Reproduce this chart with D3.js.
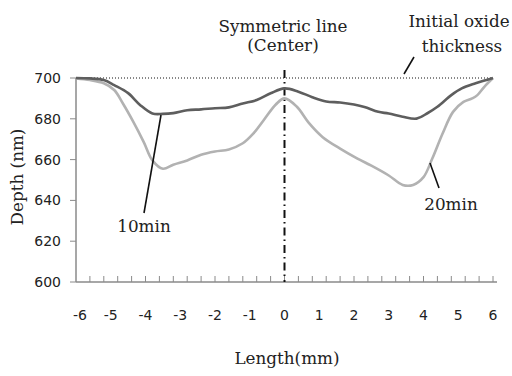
<!DOCTYPE html>
<html>
<head>
<meta charset="utf-8">
<script src="https://cdn.jsdelivr.net/npm/d3@7"></script>
<style>
  html, body { margin: 0; padding: 0; background: #fff; }
  svg { display: block; }
</style>
</head>
<body>
<div id="chart"></div>
<script>
// data (length in mm, depth in nm)
const lengths10 = [-6, -5.6, -5.2, -4.9, -4.5, -4.15, -3.8, -3.5, -3.2, -2.8, -2.4, -2.0, -1.6, -1.2, -0.8, -0.4, 0,
  0.4, 0.8, 1.2, 1.6, 2.0, 2.3, 2.7, 3.0, 3.4, 3.8, 4.1, 4.4, 4.8, 5.1, 5.5, 6];
const depth10 = [700, 699.8, 699, 696.5, 692.6, 686.7, 682.6, 682.4, 682.8, 684.2, 684.6, 685.2, 685.6, 687.5, 689.2, 692.5, 694.9,
  693.3, 690.6, 688.5, 688, 687, 685.8, 683.4, 682.6, 681, 680.1, 682.6, 685.9, 691.6, 694.9, 697.4, 700];

const lengths20 = [-6, -5.6, -5.2, -4.9, -4.65, -4.35, -4.05, -3.8, -3.5, -3.2, -2.8, -2.4, -2.0, -1.6, -1.2, -0.9, -0.6, -0.25, 0,
  0.35, 0.7, 1.1, 1.6, 2.1, 2.5, 3.0, 3.4, 3.7, 4.0, 4.25, 4.55, 4.85, 5.15, 5.4, 5.55, 5.75, 6];
const depth20 = [699.8, 699, 697.4, 694.1, 687.5, 678.5, 668.6, 659.6, 655.5, 657.5, 659.6, 662.4, 664, 665, 668, 672.7, 679.3, 687, 690,
  686, 678, 671, 665.4, 660.5, 657, 652.2, 647.6, 647.6, 651.4, 660.4, 672.8, 683.4, 688.3, 690, 691.6, 695.7, 700];

const xTickLabels = [-6, -5, -4, -3, -2, -1, 0, 1, 2, 3, 4, 5, 6];
const yTickLabels = [600, 620, 640, 660, 680, 700];
const initialThickness = 700;

const W = 512, H = 376;
const SERIF = "'DejaVu Serif', serif";
const SANS = "'DejaVu Sans', sans-serif";

const x = d3.scaleLinear().domain([-6, 6]).range([76, 493]);
const y = d3.scaleLinear().domain([600, 700]).range([282, 78]);

const svg = d3.select("#chart").append("svg")
  .attr("width", W).attr("height", H)
  .attr("viewBox", [0, 0, W, H]);

// axes
const axisColor = "#8a8a8a";
svg.append("line")
  .attr("x1", x(-6)).attr("x2", x(6) + 4).attr("y1", y(600)).attr("y2", y(600))
  .attr("stroke", axisColor).attr("stroke-width", 1.5);
svg.append("line")
  .attr("x1", x(-6)).attr("x2", x(-6)).attr("y1", y(600)).attr("y2", y(700))
  .attr("stroke", axisColor).attr("stroke-width", 1.5);

// minor ticks every 0.4 mm, pointing up into the plot
svg.append("g").selectAll("line").data(d3.range(1, 31).map(i => -6 + i * 0.4)).join("line")
  .attr("x1", d => x(d)).attr("x2", d => x(d))
  .attr("y1", y(600)).attr("y2", y(600) - 6)
  .attr("stroke", axisColor).attr("stroke-width", 1);

// y ticks outward
svg.append("g").selectAll("line").data(yTickLabels).join("line")
  .attr("x1", x(-6) - 6).attr("x2", x(-6))
  .attr("y1", d => y(d)).attr("y2", d => y(d))
  .attr("stroke", axisColor).attr("stroke-width", 1);

svg.append("g").selectAll("text").data(yTickLabels).join("text")
  .attr("x", 61).attr("y", d => y(d)).attr("dy", "0.36em")
  .attr("text-anchor", "end").attr("font-family", SANS).attr("font-size", 14)
  .attr("fill", "#222").text(d => d);

svg.append("g").selectAll("text").data(xTickLabels).join("text")
  .attr("x", d => x(d) + (d === -6 ? 4 : 0)).attr("y", 320)
  .attr("text-anchor", "middle").attr("font-family", SANS).attr("font-size", 14)
  .attr("fill", "#222").text(d => d);

// reference lines
svg.append("line")
  .attr("x1", x(-6)).attr("x2", x(6)).attr("y1", y(initialThickness)).attr("y2", y(initialThickness))
  .attr("stroke", "#111").attr("stroke-width", 1).attr("stroke-dasharray", "1,2");

svg.append("line")
  .attr("x1", x(0)).attr("x2", x(0)).attr("y1", 70).attr("y2", y(600))
  .attr("stroke", "#111").attr("stroke-width", 2).attr("stroke-dasharray", "8,4,1.5,4");

// series
const line = d3.line().x(d => x(d[0])).y(d => y(d[1])).curve(d3.curveCatmullRom.alpha(0.5));

svg.append("path").datum(d3.zip(lengths20, depth20))
  .attr("d", line).attr("fill", "none")
  .attr("stroke", "#b2b2b2").attr("stroke-width", 2.6);

svg.append("path").datum(d3.zip(lengths10, depth10))
  .attr("d", line).attr("fill", "none")
  .attr("stroke", "#5e5e5e").attr("stroke-width", 2.6);

// annotations
const ann = svg.append("g").attr("font-family", SERIF).attr("font-size", 16.8).attr("fill", "#222")
  .attr("text-anchor", "middle");
ann.append("text").attr("x", 283).attr("y", 32).text("Symmetric line");
ann.append("text").attr("x", 283).attr("y", 51).text("(Center)");
ann.append("text").attr("x", 459).attr("y", 27).text("Initial oxide");
ann.append("text").attr("x", 462).attr("y", 52).text("thickness");
ann.append("text").attr("x", 144).attr("y", 232).text("10min");
ann.append("text").attr("x", 451).attr("y", 210).text("20min");
ann.append("text").attr("x", 287).attr("y", 364).text("Length(mm)");
ann.append("text").attr("transform", "translate(23,177) rotate(-90)").text("Depth (nm)");

// leader lines
const leaders = [
  [414, 57, 404, 74],
  [161, 115, 144, 213],
  [430, 163, 439, 188]
];
svg.append("g").selectAll("line").data(leaders).join("line")
  .attr("x1", d => d[0]).attr("y1", d => d[1]).attr("x2", d => d[2]).attr("y2", d => d[3])
  .attr("stroke", "#111").attr("stroke-width", 1.6);
</script>
</body>
</html>
